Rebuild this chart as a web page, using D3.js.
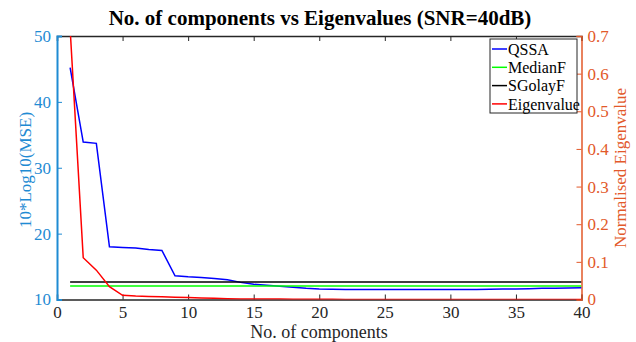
<!DOCTYPE html>
<html>
<head>
<meta charset="utf-8">
<script src="https://cdn.jsdelivr.net/npm/d3@7"></script>
<style>
	body { margin: 0; background: #fff; }
	svg { display: block; }
</style>
</head>
<body>
<svg></svg>
<script>

const components = d3.range(1, 41)

const qssa = [45.2, 33.9, 33.7, 18.0, 17.9, 17.8, 17.6, 17.45, 13.6, 13.45,
	13.35, 13.2, 13.0, 12.6, 12.3, 12.15, 12.0, 11.85, 11.7, 11.6,
	11.55, 11.5, 11.5, 11.5, 11.5, 11.5, 11.5, 11.5, 11.5, 11.5,
	11.5, 11.5, 11.55, 11.6, 11.6, 11.65, 11.7, 11.7, 11.75, 11.8]

const medianF = components.map(() => 12.05)
const sgolayF = components.map(() => 12.65)

const eigen = [0.72, 0.111, 0.078, 0.034, 0.011, 0.009, 0.008, 0.007, 0.006, 0.005,
	0.004, 0.003, 0.002, 0.0015, 0.001, 0.001, 0.001, 0.0008, 0.0006, 0.0005,
	0.0004, 0.0003, 0.0002, 0.0002, 0.0001, 0.0001, 0, 0, 0, 0,
	0, 0, 0, 0, 0, 0, 0, 0, 0, 0]

const xTicks = [0, 5, 10, 15, 20, 25, 30, 35, 40]
const yTicks = [10, 20, 30, 40, 50]
const y2Ticks = [0, 0.1, 0.2, 0.3, 0.4, 0.5, 0.6, 0.7]

const legendNames = ['QSSA', 'MedianF', 'SGolayF', 'Eigenvalue']
const legendColors = ['#0000ff', '#00ff00', '#000000', '#ff0000']

let width = 636, height = 342
let pL = 57, pR = 581.5, pT = 36, pB = 299.5
let blueAx = '#1f8bd3', orangeAx = '#e2592a', grey = '#262626'
let serif = 'Liberation Serif'

let svg = d3.select('svg').attr('width', width).attr('height', height)
	.attr('font-family', serif)

let scX = d3.scaleLinear().domain([0, 40]).range([pL, pR])
let scY = d3.scaleLinear().domain([10, 50]).range([pB, pT])
let scY2 = d3.scaleLinear().domain([0, 0.7]).range([pB, pT])

svg.append('clipPath').attr('id', 'plot')
	.append('rect')
	.attr('x', pL).attr('y', pT)
	.attr('width', pR - pL).attr('height', pB - pT)

// title
svg.append('text')
	.attr('x', 320).attr('y', 25)
	.attr('text-anchor', 'middle')
	.attr('font-family', serif)
	.attr('font-size', 21).attr('font-weight', 'bold')
	.attr('fill', '#000')
	.text('No. of components vs Eigenvalues (SNR=40dB)')

// bottom + top axes
let xAxis = d3.axisBottom(scX).tickValues(xTicks).tickSize(-5).tickPadding(6)
let gx = svg.append('g')
	.attr('transform', `translate(0, ${pB})`)
	.call(xAxis)
	.attr('font-family', serif)
gx.select('.domain').attr('stroke', grey).attr('stroke-width', 1.5)
gx.selectAll('.tick line').attr('stroke', grey)
gx.selectAll('.tick text').attr('fill', grey).attr('font-size', 17).attr('font-family', serif)

let gxTop = svg.append('g')
	.attr('transform', `translate(0, ${pT})`)
	.call(d3.axisTop(scX).tickValues(xTicks).tickSize(-5).tickFormat(''))
gxTop.select('.domain').attr('stroke', grey).attr('stroke-width', 1.5)
gxTop.selectAll('.tick line').attr('stroke', grey)

// left axis
let gy = svg.append('g')
	.attr('transform', `translate(${pL}, 0)`)
	.call(d3.axisLeft(scY).tickValues(yTicks).tickSize(-5).tickPadding(6))
	.attr('font-family', serif)
gy.select('.domain').attr('stroke', blueAx).attr('stroke-width', 2)
gy.selectAll('.tick line').attr('stroke', blueAx)
gy.selectAll('.tick text').attr('fill', blueAx).attr('font-size', 17).attr('font-family', serif)

// right axis
let gy2 = svg.append('g')
	.attr('transform', `translate(${pR}, 0)`)
	.call(d3.axisRight(scY2).tickValues(y2Ticks).tickSize(-5).tickPadding(6)
		.tickFormat(d => d === 0 ? '0' : d3.format('.1f')(d)))
	.attr('font-family', serif)
gy2.select('.domain').attr('stroke', orangeAx).attr('stroke-width', 1.5)
gy2.selectAll('.tick line').attr('stroke', orangeAx)
gy2.selectAll('.tick text').attr('fill', orangeAx).attr('font-size', 17).attr('font-family', serif)

// axis labels
svg.append('text')
	.attr('x', 319).attr('y', 338)
	.attr('text-anchor', 'middle')
	.attr('font-family', serif)
	.attr('font-size', 18).attr('fill', grey)
	.text('No. of components')

svg.append('text')
	.attr('transform', 'translate(31, 170) rotate(-90)')
	.attr('text-anchor', 'middle')
	.attr('font-family', serif)
	.attr('font-size', 17).attr('fill', blueAx)
	.text('10*Log10(MSE)')

svg.append('text')
	.attr('transform', 'translate(626, 168) rotate(-90)')
	.attr('text-anchor', 'middle')
	.attr('font-family', serif)
	.attr('font-size', 17).attr('fill', orangeAx)
	.text('Normalised Eigenvalue')

// lines
let lineL = d3.line().x((d, i) => scX(components[i])).y(d => scY(d))
let lineR = d3.line().x((d, i) => scX(components[i])).y(d => scY2(d))

let plot = svg.append('g').attr('clip-path', 'url(#plot)')

plot.append('path').attr('d', lineL(qssa))
	.attr('fill', 'none').attr('stroke', legendColors[0]).attr('stroke-width', 1.5)
plot.append('path').attr('d', lineL(medianF))
	.attr('fill', 'none').attr('stroke', legendColors[1]).attr('stroke-width', 1.5)
plot.append('path').attr('d', lineL(sgolayF))
	.attr('fill', 'none').attr('stroke', legendColors[2]).attr('stroke-width', 1.5)
plot.append('path').attr('d', lineR(eigen))
	.attr('fill', 'none').attr('stroke', legendColors[3]).attr('stroke-width', 1.5)

// legend
let lg = svg.append('g').attr('transform', 'translate(490, 39)')
lg.append('rect')
	.attr('width', 87).attr('height', 74)
	.attr('fill', '#fff').attr('stroke', grey).attr('stroke-width', 1)

let items = lg.selectAll('g.item')
	.data(legendNames).enter().append('g')
	.attr('transform', (d, i) => `translate(0, ${10 + i * 18.3})`)

items.append('line')
	.attr('x1', 2).attr('x2', 17)
	.attr('stroke', (d, i) => legendColors[i]).attr('stroke-width', 1.5)

items.append('text')
	.attr('x', 18).attr('dy', '0.35em')
	.attr('font-family', serif)
	.attr('font-size', 16).attr('fill', '#000')
	.text(d => d)

</script>
</body>
</html>
